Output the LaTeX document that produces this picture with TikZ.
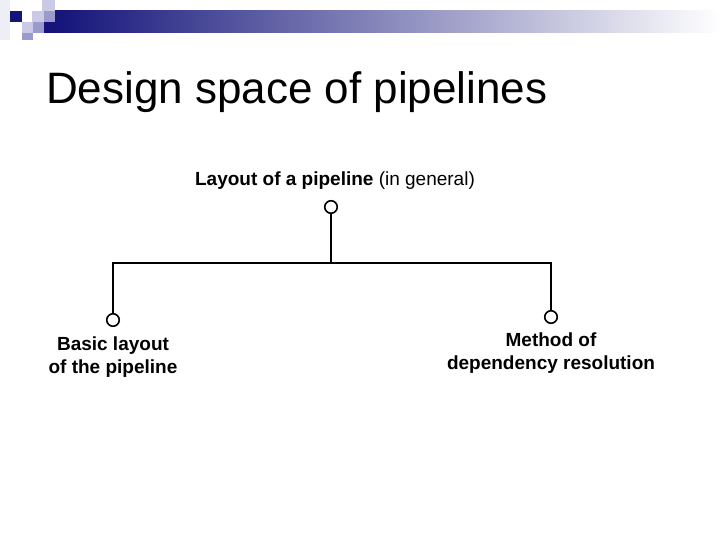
\documentclass[tikz,border=0pt]{standalone}
\usepackage{fontspec}
\setmainfont{Liberation Sans}
\usetikzlibrary{positioning}
\definecolor{slnavy}{HTML}{14147A}
\definecolor{slgray}{HTML}{A4A4BC}
\definecolor{slmid}{HTML}{9A9ACC}
\definecolor{sllight}{HTML}{CACAE6}
\definecolor{slpale}{HTML}{EEEEF6}

\begin{document}
\begin{tikzpicture}[x=1pt, y=-1pt, line width=2pt,
    dot/.style={draw, circle, fill=white, minimum size=12.5pt, inner sep=0pt, line width=1.6pt},
    lbl/.style={font=\fontsize{19}{23}\selectfont\bfseries, align=center, inner sep=0pt}]
    \useasboundingbox[fill=white] (0,0) rectangle (720,540);
    % slide decoration
    \shade[left color=slnavy, middle color=slgray, right color=white] (55,11) rectangle (720,33);
    \fill[slpale] (0,0) rectangle (10,40);
    \fill[sllight] (42,0) rectangle (55,11);
    \fill[slnavy] (10,11) rectangle (22,22);
    \fill[sllight] (32,11) rectangle (44,22);
    \fill[slmid] (44,11) rectangle (55,22);
    \fill[sllight] (22,22) rectangle (33,33);
    \fill[slmid] (33,22) rectangle (44,33);
    \fill[slnavy] (44,22) rectangle (55,33);
    \fill[slmid] (22,33) rectangle (33,40);

    \node[anchor=base west, inner sep=0pt, font=\fontsize{44}{50}\selectfont] (title) at (45,104)
          {Design space of pipelines};

    \node[lbl, anchor=base] (toplbl) at (335,186) {Layout of a pipeline \mdseries(in general)};
    \node[dot] (topdot) at (331,207) {};
    \coordinate (bar) at (331,263);
    \node[dot] (ldot) at (113,320) {};
    \node[dot] (rdot) at (551,317) {};
    \node[lbl, below=9pt of ldot] (llbl) {Basic layout\\of the pipeline};
    \node[lbl, below=8pt of rdot] (rlbl) {Method of\\dependency resolution};
    \draw (topdot) -- (bar);
    \draw (ldot) |- (bar) -| (rdot);
\end{tikzpicture}
\end{document}
